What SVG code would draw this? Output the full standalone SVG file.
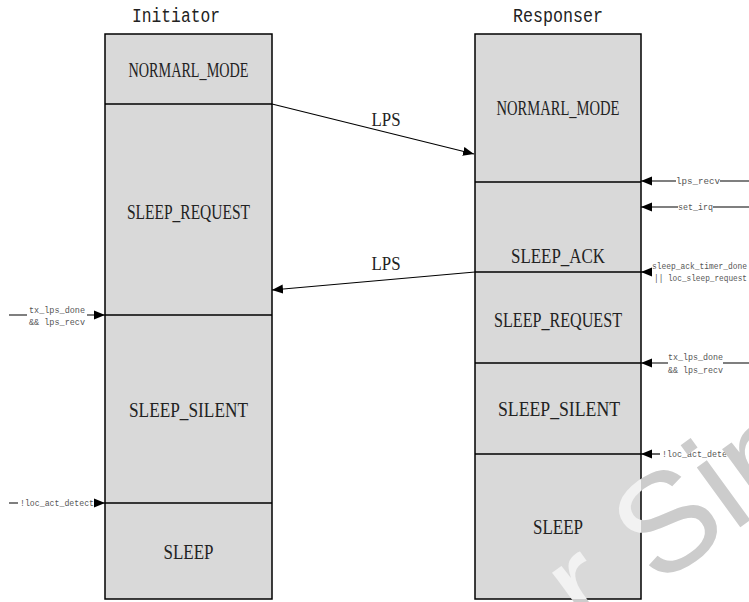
<svg xmlns="http://www.w3.org/2000/svg" width="749" height="602" viewBox="0 0 749 602">
  <style>
    .lane { fill: #d9d9d9; stroke: #000; stroke-width: 1.5; }
    .div { stroke: #000; stroke-width: 1.5; fill: none; }
    .title { font-family: "Liberation Mono", monospace; font-size: 20px; fill: #222; text-anchor: middle; }
    .state { font-family: "Liberation Serif", serif; font-size: 20px; fill: #222; text-anchor: middle; }
    .msg { font-family: "Liberation Serif", serif; font-size: 19px; fill: #222; text-anchor: middle; }
    .sig { font-family: "Liberation Mono", monospace; font-size: 9px; fill: #555; }
    .wire { stroke: #000; stroke-width: 1.2; fill: none; }
    .wm { font-family: "Liberation Sans", sans-serif; font-size: 140px; }
  </style>
  <defs>
    <marker id="tip" markerUnits="userSpaceOnUse" markerWidth="12" markerHeight="10" refX="11" refY="5" orient="auto">
      <path d="M0,0.5 L11,5 L0,9.5 z" fill="#000"/>
    </marker>
    <clipPath id="inLane">
      <rect x="475" y="34" width="166" height="565"/>
    </clipPath>
    <clipPath id="outLane">
      <path d="M0,0 H749 V602 H0 z M475,34 V599 H641 V34 z" clip-rule="evenodd"/>
    </clipPath>
  </defs>

  <!-- lane titles -->
  <text class="title" x="176" y="22" textLength="88" lengthAdjust="spacingAndGlyphs">Initiator</text>
  <text class="title" x="558" y="22" textLength="90" lengthAdjust="spacingAndGlyphs">Responser</text>

  <!-- Initiator lane -->
  <g id="initiator">
    <rect class="lane" x="105" y="34" width="167" height="565"/>
    <path class="div" d="M105,104 H272 M105,315 H272 M105,503 H272"/>
    <g id="i_normal"><text class="state" x="188.5" y="77" textLength="120" lengthAdjust="spacingAndGlyphs">NORMARL_MODE</text></g>
    <g id="i_sleep_request"><text class="state" x="188.5" y="219" textLength="123" lengthAdjust="spacingAndGlyphs">SLEEP_REQUEST</text></g>
    <g id="i_sleep_silent"><text class="state" x="188.5" y="417" textLength="119" lengthAdjust="spacingAndGlyphs">SLEEP_SILENT</text></g>
    <g id="i_sleep"><text class="state" x="188.5" y="559" textLength="50" lengthAdjust="spacingAndGlyphs">SLEEP</text></g>
  </g>

  <!-- Responser lane -->
  <g id="responser">
    <rect class="lane" x="475" y="34" width="166" height="565"/>
    <path class="div" d="M475,182 H641 M475,272 H641 M475,363 H641 M475,454 H641"/>
    <g id="r_normal"><text class="state" x="558" y="115" textLength="123" lengthAdjust="spacingAndGlyphs">NORMARL_MODE</text></g>
    <g id="r_sleep_ack"><text class="state" x="558" y="263" textLength="94" lengthAdjust="spacingAndGlyphs">SLEEP_ACK</text></g>
    <g id="r_sleep_request"><text class="state" x="558" y="327" textLength="128" lengthAdjust="spacingAndGlyphs">SLEEP_REQUEST</text></g>
    <g id="r_sleep_silent"><text class="state" x="559" y="416" textLength="122" lengthAdjust="spacingAndGlyphs">SLEEP_SILENT</text></g>
    <g id="r_sleep"><text class="state" x="558" y="534" textLength="50" lengthAdjust="spacingAndGlyphs">SLEEP</text></g>
  </g>

  <!-- connectors -->
  <g id="connectors">
    <!-- LPS frames between the lanes -->
    <path class="wire" d="M272,104 L474,154" marker-end="url(#tip)"/>
    <text class="msg" x="386" y="126" textLength="29" lengthAdjust="spacingAndGlyphs">LPS</text>
    <path class="wire" d="M475,272 L272,290" marker-end="url(#tip)"/>
    <text class="msg" x="386" y="270" textLength="29" lengthAdjust="spacingAndGlyphs">LPS</text>

    <!-- Initiator triggers -->
    <path class="wire" d="M9,315 H27 M87,315 H105" marker-end="url(#tip)"/>
    <text class="sig" x="29" y="313" textLength="56" lengthAdjust="spacingAndGlyphs">tx_lps_done</text>
    <text class="sig" x="29" y="325" textLength="56" lengthAdjust="spacingAndGlyphs">&amp;&amp; lps_recv</text>
    <path class="wire" d="M9,503 H18 M94,503 H105" marker-end="url(#tip)"/>
    <text class="sig" x="20" y="506" textLength="74" lengthAdjust="spacingAndGlyphs">!loc_act_detect</text>

    <!-- Responser triggers -->
    <path class="wire" d="M749,181 H720 M676,181 H641" marker-end="url(#tip)"/>
    <text class="sig" x="676" y="184" textLength="44" lengthAdjust="spacingAndGlyphs">lps_recv</text>
    <path class="wire" d="M749,207 H713 M678,207 H641" marker-end="url(#tip)"/>
    <text class="sig" x="678" y="210" textLength="35" lengthAdjust="spacingAndGlyphs">set_irq</text>
    <path class="wire" d="M652,272 H641" marker-end="url(#tip)"/>
    <text class="sig" x="652" y="269" textLength="95" lengthAdjust="spacingAndGlyphs">sleep_ack_timer_done</text>
    <text class="sig" x="654" y="281" textLength="93" lengthAdjust="spacingAndGlyphs">|| loc_sleep_request</text>
    <path class="wire" d="M749,363 H723 M668,363 H641" marker-end="url(#tip)"/>
    <text class="sig" x="668" y="360" textLength="55" lengthAdjust="spacingAndGlyphs">tx_lps_done</text>
    <text class="sig" x="668" y="373" textLength="55" lengthAdjust="spacingAndGlyphs">&amp;&amp; lps_recv</text>
    <path class="wire" d="M660,454 H641" marker-end="url(#tip)"/>
    <text class="sig" x="662" y="457" textLength="75" lengthAdjust="spacingAndGlyphs">!loc_act_detect</text>
  </g>

  <!-- watermark: grey on the page, pale over the lane -->
  <g id="watermark">
    <g clip-path="url(#outLane)">
      <text class="wm" fill="#cccccc" transform="translate(588,638) rotate(-36)">r Sin</text>
    </g>
    <g clip-path="url(#inLane)">
      <text class="wm" fill="#f2f2f2" transform="translate(588,638) rotate(-36)">r Sin</text>
    </g>
  </g>
</svg>
